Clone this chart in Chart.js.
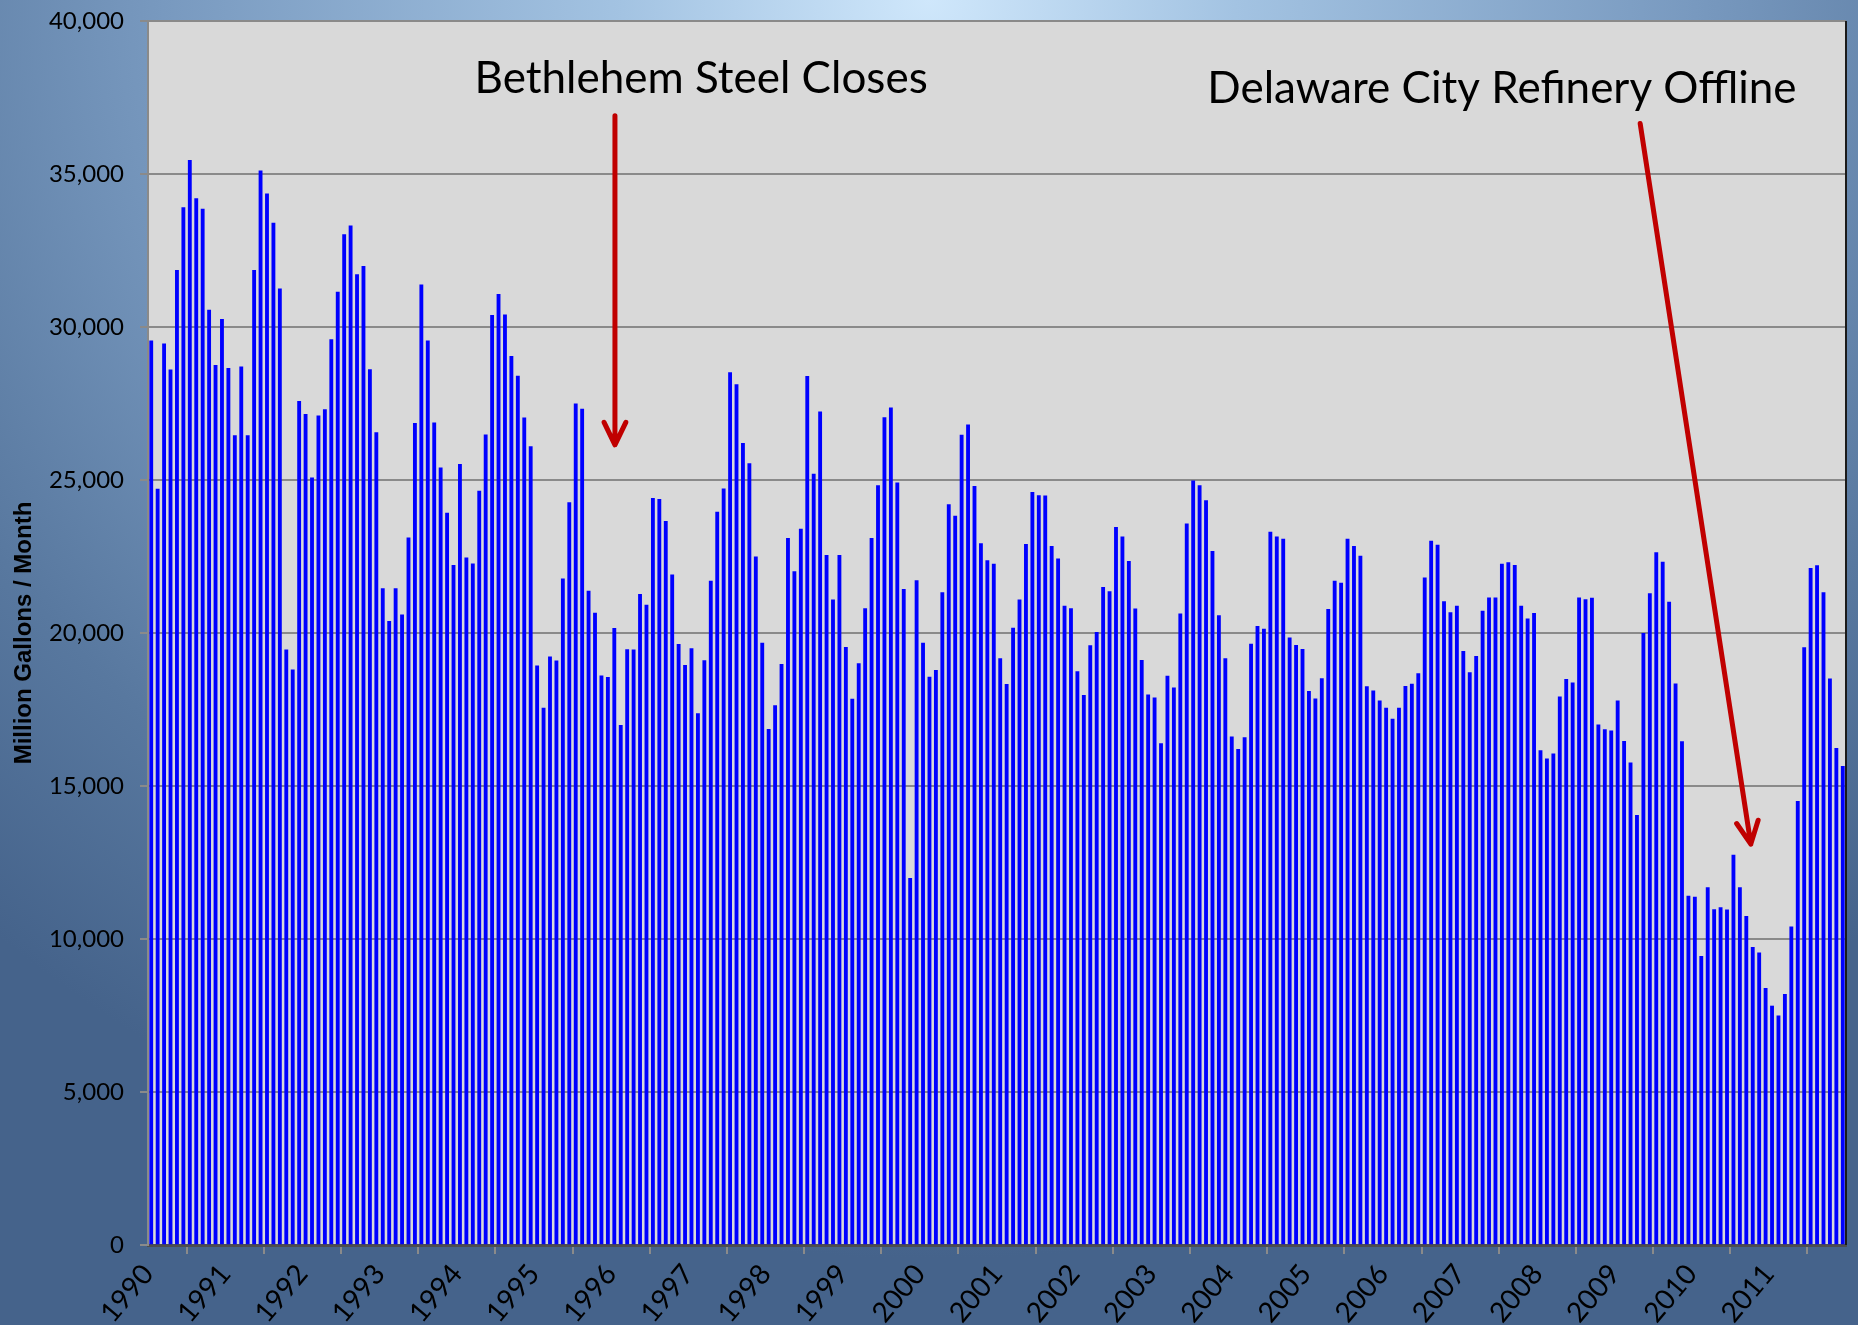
<!DOCTYPE html>
<html lang="en">
<head>
<meta charset="UTF-8">
<title>Million Gallons / Month</title>
<script src="https://cdn.jsdelivr.net/npm/chart.js"></script>
<style>
  * { margin: 0; padding: 0; box-sizing: border-box; }
  body {
    width: 1858px;
    height: 1325px;
    overflow: hidden;
    background: radial-gradient(ellipse 75% 95% at 50% 0%, #cfe7fb 0%, #a3c3e2 22%, #7899bf 55%, #58789f 80%, #45638b 100%);
  }
  #wrap { position: relative; width: 1858px; height: 1325px; }
</style>
</head>
<body>
<div id="wrap">
  <canvas id="chart" width="1858" height="1325"></canvas>
</div>
<script>
// years on the axis
const years = [1990, 1991, 1992, 1993, 1994, 1995, 1996, 1997, 1998, 1999, 2000,
               2001, 2002, 2003, 2004, 2005, 2006, 2007, 2008, 2009, 2010, 2011];

// monthly volumes (million gallons), Jan..Dec
const gal1990 = [29550, 24700, 29450, 28600, 31850, 33900, 35450, 34200, 33850, 30550, 28750, 30250];
const gal1991 = [28650, 26450, 28700, 26450, 31850, 35100, 34350, 33400, 31250, 19450, 18800, 27570];
const gal1992 = [27150, 25070, 27100, 27300, 29590, 31140, 33020, 33310, 31710, 31980, 28610, 26550];
const gal1993 = [21450, 20380, 21450, 20590, 23110, 26850, 31380, 29550, 26870, 25400, 23920, 22210];
const gal1994 = [25510, 22460, 22260, 24640, 26480, 30380, 31070, 30400, 29040, 28400, 27030, 26090];
const gal1995 = [18930, 17550, 19220, 19090, 21770, 24260, 27490, 27320, 21370, 20650, 18600, 18550];
const gal1996 = [20150, 16980, 19460, 19450, 21260, 20910, 24400, 24370, 23650, 21900, 19630, 18940];
const gal1997 = [19490, 17370, 19100, 21700, 23950, 24710, 28510, 28120, 26200, 25540, 22490, 19670];
const gal1998 = [16850, 17630, 18980, 23090, 22010, 23400, 28390, 25190, 27230, 22540, 21080, 22540];
const gal1999 = [19530, 17840, 19000, 20800, 23090, 24820, 27040, 27360, 24910, 21430, 11980, 21710];
const gal2000 = [19670, 18560, 18780, 21320, 24200, 23820, 26470, 26800, 24790, 22920, 22370, 22250];
const gal2001 = [19160, 18320, 20160, 21080, 22900, 24600, 24490, 24480, 22830, 22420, 20880, 20800];
const gal2002 = [18740, 17960, 19590, 20020, 21490, 21350, 23450, 23140, 22340, 20790, 19110, 17980];
const gal2003 = [17880, 16390, 18590, 18210, 20630, 23570, 24970, 24820, 24330, 22670, 20570, 19160];
const gal2004 = [16610, 16200, 16580, 19640, 20220, 20130, 23300, 23140, 23070, 19840, 19600, 19470];
const gal2005 = [18090, 17850, 18510, 20770, 21700, 21630, 23070, 22830, 22510, 18250, 18110, 17780];
const gal2006 = [17550, 17190, 17550, 18260, 18330, 18670, 21800, 23000, 22870, 21030, 20670, 20880];
const gal2007 = [19400, 18710, 19240, 20720, 21150, 21150, 22250, 22300, 22210, 20880, 20460, 20640];
const gal2008 = [16160, 15890, 16050, 17910, 18490, 18370, 21150, 21090, 21140, 17000, 16840, 16800];
const gal2009 = [17780, 16460, 15760, 14040, 19990, 21290, 22630, 22320, 21010, 18340, 16450, 11400];
const gal2010 = [11370, 9430, 11680, 10960, 11030, 10950, 12740, 11680, 10740, 9730, 9550, 8390];
const gal2011 = [7810, 7490, 8190, 10400, 14500, 19520, 22110, 22200, 21320, 18500, 16230, 15640];

const yTicks = [0, 5000, 10000, 15000, 20000, 25000, 30000, 35000, 40000];

const monthly = [].concat(gal1990, gal1991, gal1992, gal1993, gal1994, gal1995, gal1996,
  gal1997, gal1998, gal1999, gal2000, gal2001, gal2002, gal2003, gal2004, gal2005,
  gal2006, gal2007, gal2008, gal2009, gal2010, gal2011);

// x runs in months from Jan 1990, each bar sits in the middle of its month
const points = monthly.map((v, i) => ({ x: i + 0.5, y: v }));

// callouts, placed in data units (months, gallons)
const notes = [
  { text: 'Bethlehem Steel Closes', x: 86, y: 37650, from: [72.6, 36900], to: [72.6, 26150] },
  { text: 'Delaware City Refinery Offline', x: 210.5, y: 37330, from: [232, 36650], to: [249.2, 13100] }
];

const plotBackground = {
  id: 'plotBackground',
  beforeDraw(chart) {
    const { ctx, chartArea: a } = chart;
    ctx.save();
    ctx.fillStyle = '#d9d9d9';
    ctx.fillRect(a.left, a.top, a.right - a.left, a.bottom - a.top);
    ctx.restore();
  },
  afterDraw(chart) {
    const { ctx, chartArea: a, scales } = chart;
    ctx.save();
    // right edge of the plot
    ctx.strokeStyle = '#1a1a1a';
    ctx.lineWidth = 2;
    ctx.beginPath();
    ctx.moveTo(a.right, a.top);
    ctx.lineTo(a.right, a.bottom);
    ctx.stroke();

    notes.forEach(n => {
      ctx.fillStyle = '#000';
      ctx.font = '44px Lato, "Open Sans", sans-serif';
      ctx.textAlign = 'center';
      ctx.textBaseline = 'alphabetic';
      ctx.fillText(n.text, scales.x.getPixelForValue(n.x), scales.y.getPixelForValue(n.y));

      const x1 = scales.x.getPixelForValue(n.from[0]), y1 = scales.y.getPixelForValue(n.from[1]);
      const x2 = scales.x.getPixelForValue(n.to[0]), y2 = scales.y.getPixelForValue(n.to[1]);
      const ang = Math.atan2(y2 - y1, x2 - x1);
      const head = 25, spread = 0.45;
      ctx.strokeStyle = '#c00000';
      ctx.lineWidth = 5;
      ctx.lineCap = 'round';
      ctx.lineJoin = 'round';
      ctx.beginPath();
      ctx.moveTo(x1, y1);
      ctx.lineTo(x2, y2);
      ctx.moveTo(x2 - head * Math.cos(ang - spread), y2 - head * Math.sin(ang - spread));
      ctx.lineTo(x2, y2);
      ctx.lineTo(x2 - head * Math.cos(ang + spread), y2 - head * Math.sin(ang + spread));
      ctx.stroke();
    });
    ctx.restore();
  }
};

new Chart(document.getElementById('chart'), {
  type: 'bar',
  data: {
    datasets: [{
      data: points,
      backgroundColor: '#0000ff',
      borderWidth: 0,
      barThickness: 3.2
    }]
  },
  options: {
    responsive: false,
    animation: false,
    layout: { padding: { top: 21, right: 12, left: 0, bottom: 0 } },
    plugins: {
      legend: { display: false },
      tooltip: { enabled: false }
    },
    scales: {
      x: {
        type: 'linear',
        min: 0,
        max: monthly.length,
        offset: false,
        afterFit: s => { s.height = 80; s.paddingLeft = 0; s.paddingRight = 0; },
        afterBuildTicks: s => { s.ticks = years.map((y, i) => ({ value: i * 12 })).concat([{ value: monthly.length }]); },
        ticks: {
          autoSkip: false,
          minRotation: 50,
          maxRotation: 50,
          padding: 4,
          color: '#000',
          font: { family: 'Lato, "Open Sans", sans-serif', size: 28 },
          callback: v => (v < monthly.length ? String(years[v / 12]) : '')
        },
        grid: { drawOnChartArea: false, color: '#8a8a8a', lineWidth: 2, tickLength: 9 },
        border: { color: '#4d4d4d', width: 3 }
      },
      y: {
        min: 0,
        max: 40000,
        afterFit: s => { s.width = 148; s.paddingTop = 0; s.paddingBottom = 0; },
        afterBuildTicks: s => { s.ticks = yTicks.map(v => ({ value: v })); },
        ticks: {
          padding: 16,
          color: '#000',
          font: { family: 'Lato, "Open Sans", sans-serif', size: 24 },
          callback: v => v.toLocaleString('en-US')
        },
        grid: { color: '#8a8a8a', lineWidth: 2, tickLength: 8 },
        border: { color: '#8a8a8a', width: 2 },
        title: {
          display: true,
          text: 'Million Gallons / Month',
          color: '#000',
          padding: { top: 10, bottom: 0 },
          font: { family: '"Liberation Sans", Arial, sans-serif', size: 24, weight: 'bold' }
        }
      }
    }
  },
  plugins: [plotBackground]
});
</script>
</body>
</html>
